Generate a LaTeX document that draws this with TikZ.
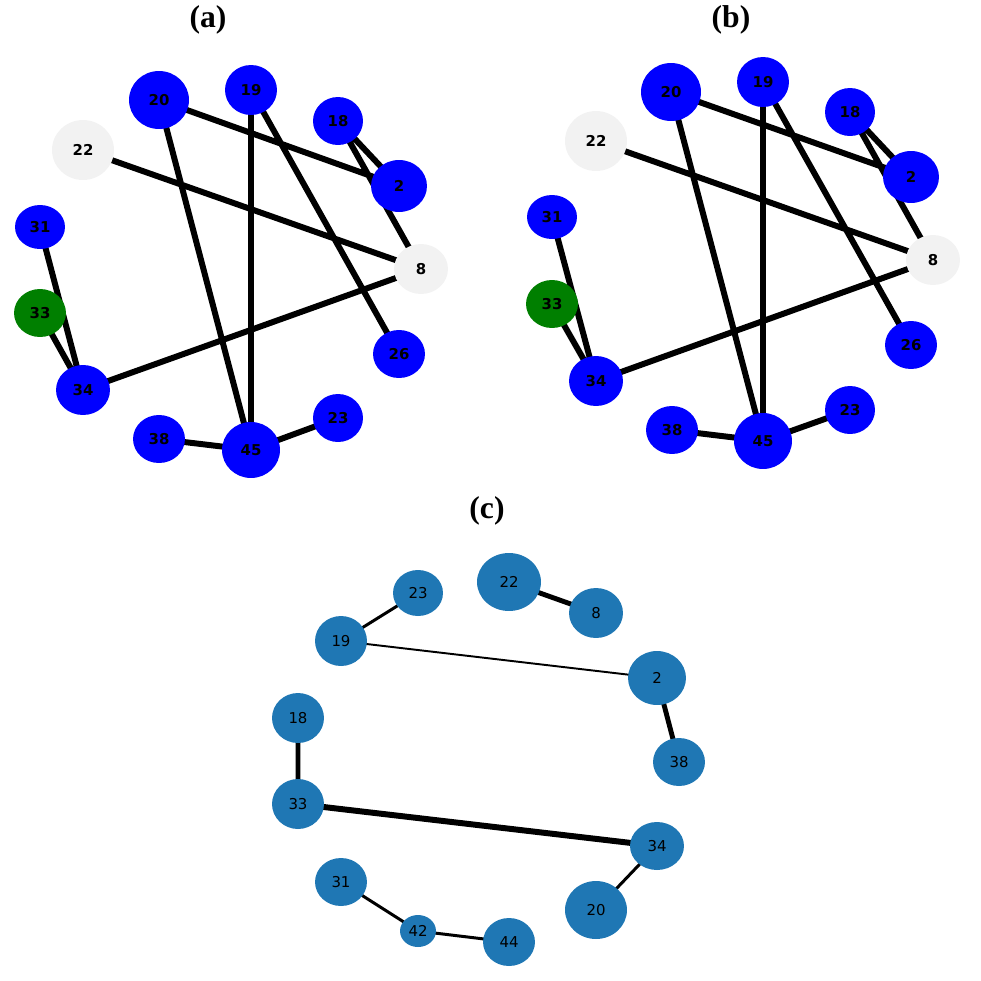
\documentclass[tikz,border=0pt]{standalone}
\usepackage{fontspec}
\usetikzlibrary{shapes.geometric,backgrounds}
\setmainfont{Liberation Serif}
\newfontfamily\djfont{DejaVu Sans}
\definecolor{lg}{HTML}{F2F2F2}
\definecolor{tb}{HTML}{1F77B4}
\definecolor{gr}{HTML}{007F00}
\begin{document}
\begin{tikzpicture}[x=0.02cm,y=-0.02cm,
 nb/.style={ellipse,draw=none,fill=blue,inner sep=0pt,font=\djfont\bfseries\fontsize{8.5}{9}\selectfont},
 nc/.style={ellipse,draw=none,fill=tb,inner sep=0pt,font=\djfont\fontsize{8.5}{9}\selectfont},
 ed/.style={line width=3.4pt},
 ttl/.style={font=\bfseries\fontsize{18}{20}\selectfont}]
\useasboundingbox (0,0) rectangle (981,981);
\def\N#1#2#3#4#5#6{\node[#6,minimum width=#4*0.04cm,minimum height=#5*0.04cm] (#1) at #3 {#2};}
\N{a20}{20}{(159,100)}{30}{29}{nb}
\N{a19}{19}{(251,90)}{26}{25}{nb}
\N{a18}{18}{(338,121)}{25}{24}{nb}
\N{a2}{2}{(399,186)}{28}{26}{nb}
\N{a22}{22}{(83,150)}{31}{30}{nb,fill=lg}
\N{a8}{8}{(421,269)}{27}{25}{nb,fill=lg}
\N{a31}{31}{(40,227)}{25}{22}{nb}
\N{a33}{33}{(40,313)}{26}{24}{nb,fill=gr}
\N{a26}{26}{(399,354)}{26}{24}{nb}
\N{a34}{34}{(83,390)}{27}{25}{nb}
\N{a38}{38}{(159,439)}{26}{24}{nb}
\N{a45}{45}{(251,450)}{29}{28}{nb}
\N{a23}{23}{(338,418)}{25}{24}{nb}
\N{b20}{20}{(671,92)}{30}{29}{nb}
\N{b19}{19}{(763,82)}{26}{25}{nb}
\N{b18}{18}{(850,112)}{25}{24}{nb}
\N{b2}{2}{(911,177)}{28}{26}{nb}
\N{b22}{22}{(596,141)}{31}{30}{nb,fill=lg}
\N{b8}{8}{(933,260)}{27}{25}{nb,fill=lg}
\N{b31}{31}{(552,217)}{25}{22}{nb}
\N{b33}{33}{(552,304)}{26}{24}{nb,fill=gr}
\N{b26}{26}{(911,345)}{26}{24}{nb}
\N{b34}{34}{(596,381)}{27}{25}{nb}
\N{b38}{38}{(672,430)}{26}{24}{nb}
\N{b45}{45}{(763,441)}{29}{28}{nb}
\N{b23}{23}{(850,410)}{25}{24}{nb}
\N{c22}{22}{(509,582)}{32}{29}{nc}
\N{c8}{8}{(596,613)}{27}{25}{nc}
\N{c23}{23}{(418,593)}{25}{23}{nc}
\N{c19}{19}{(341,641)}{26}{25}{nc}
\N{c2}{2}{(657,678)}{29}{27}{nc}
\N{c18}{18}{(298,718)}{26}{25}{nc}
\N{c38}{38}{(679,762)}{26}{24}{nc}
\N{c33}{33}{(298,804)}{26}{25}{nc}
\N{c34}{34}{(657,846)}{27}{24}{nc}
\N{c31}{31}{(341,882)}{26}{24}{nc}
\N{c20}{20}{(596,910)}{31}{29}{nc}
\N{c42}{42}{(418,931)}{18}{16}{nc}
\N{c44}{44}{(509,942)}{26}{24}{nc}
\begin{scope}[on background layer]
\foreach \p in {a,b}{
 \draw[ed] (\p20.center)--(\p2.center) (\p20.center)--(\p45.center) (\p19.center)--(\p45.center)
  (\p19.center)--(\p26.center) (\p18.center)--(\p2.center) (\p18.center)--(\p8.center)
  (\p22.center)--(\p8.center) (\p31.center)--(\p34.center) (\p33.center)--(\p34.center)
  (\p34.center)--(\p8.center) (\p38.center)--(\p45.center) (\p45.center)--(\p23.center);
}
\draw[line width=1.7pt] (c23.center)--(c19.center) (c34.center)--(c20.center) (c31.center)--(c42.center) (c42.center)--(c44.center);
\draw[line width=1.1pt] (c19.center)--(c2.center);
\draw[line width=2.8pt] (c22.center)--(c8.center) (c2.center)--(c38.center) (c18.center)--(c33.center);
\draw[line width=3.4pt] (c33.center)--(c34.center);
\end{scope}
\node[ttl] (ta) at (208,20) {(a)};
\node[ttl] (tb) at (731,20) {(b)};
\node[ttl] (tc) at (487,511) {(c)};
\end{tikzpicture}
\end{document}
